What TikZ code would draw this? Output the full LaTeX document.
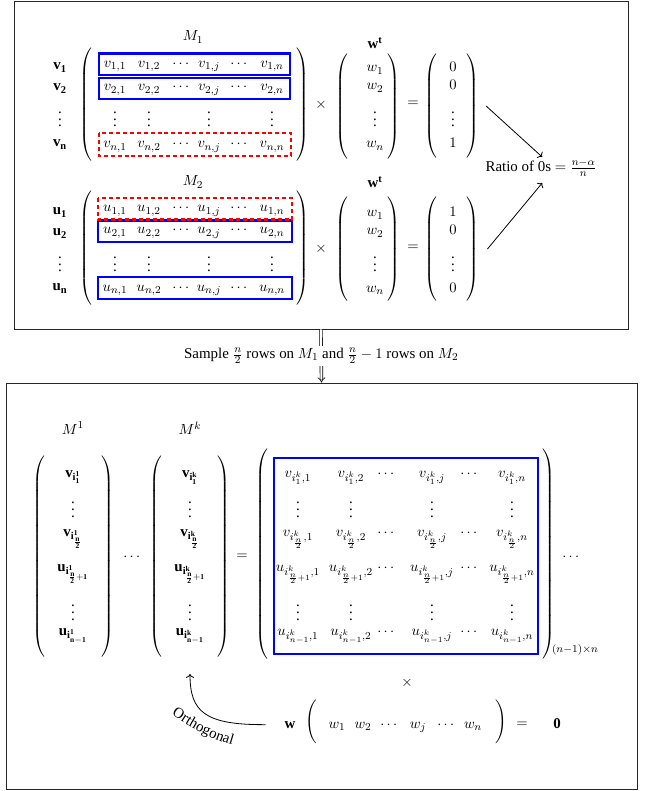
\documentclass[tikz,border=0pt]{standalone}
\usepackage{amsmath}
\usepackage{fontspec}
\setmainfont{Liberation Serif}
\usetikzlibrary{arrows.meta,decorations.text}
\newcommand\parL[1]{$\delimiterfactor=1000\delimitershortfall=0pt\left(\vcenter to #1{\vfil}\right.$}
\newcommand\parR[1]{$\delimiterfactor=1000\delimitershortfall=0pt\left.\vcenter to #1{\vfil}\right)$}
\newcommand\vd{\vbox{\baselineskip5.2pt\lineskiplimit0pt\hbox{.}\hbox{.}\hbox{.}}}
\tikzset{
  ent/.style={anchor=base, inner sep=0pt},
  cen/.style={inner sep=0.5pt},
  panel/.style={draw=black!85, line width=0.6pt, inner sep=0pt},
  bluebox/.style={draw=blue, line width=2.2pt},
  redbox/.style={draw=red, line width=2.2pt, dash pattern=on 3pt off 2.2pt},
  conn/.style={->, line width=0.6pt},
}
\begin{document}
\fontsize{11.2}{13.5}\selectfont
\begin{tikzpicture}[x=0.75pt,y=-0.75pt]
\useasboundingbox (0,0) rectangle (644,791);
% panels
\node[panel, minimum width=460.5pt, minimum height=246pt] (top) at (321,165) {};
\node[panel, minimum width=473.25pt, minimum height=304.5pt] (bot) at (321.5,586) {};
\draw[double, double distance=1.5pt, line width=0.5pt, -{Implies}] (top.south) --
  node[fill=white, inner sep=2pt] (samp) {Sample $\frac{n}{2}$ rows on $M_1$ and $\frac{n}{2}-1$ rows on $M_2$} (bot.north);

% ===== M1 =====
\node[cen] (M1) at (193,37) {$M_1$};
\node[ent] (lv1) at (60,70) {$\mathbf{v_1}$};
\node[ent] (lv2) at (60,91) {$\mathbf{v_2}$};
\node[ent] (lvd) at (60,127) {$\vd$};
\node[ent] (lvn) at (60,147) {$\mathbf{v_n}$};
\node[cen,inner sep=0pt] (L1) at (87,104.5) {\parL{81pt}};
\node[cen,inner sep=0pt] (R1) at (302,104.5) {\parR{81pt}};
\foreach \r/\y in {1/67.5,2/91,n/148} {
  \foreach \c/\x in {1/115,2/149,j/209,n/272} \node[ent] (v\r\c) at (\x,\y) {$v_{\r,\c}$};
  \foreach \k/\x in {a/182,b/240} \node[ent] (vd\r\k) at (\x,\y) {$\cdots$};
}
\foreach \c/\x in {1/115,2/149,j/209,n/272} \node[ent] (vv\c) at (\x,127) {$\vd$};
\draw[bluebox] (99,53.5) rectangle (290,75);
\draw[bluebox] (99,78) rectangle (290,99);
\draw[redbox] (99,133) rectangle (291,156);
\node[cen] (x1) at (321,105) {$\times$};
\node[cen] (wt1) at (375,43) {$\mathbf{w^t}$};
\node[cen,inner sep=0pt] (WL1) at (343,106.5) {\parL{73pt}};
\node[cen,inner sep=0pt] (WR1) at (393,106.5) {\parR{73pt}};
\node[ent] (w11) at (375,72) {$w_1$};
\node[ent] (w12) at (375,90) {$w_2$};
\node[ent] (w1d) at (375,127) {$\vd$};
\node[ent] (w1n) at (375,148) {$w_n$};
\node[cen] (eq1) at (413,104) {$=$};
\node[cen,inner sep=0pt] (RL1) at (432,106) {\parL{74pt}};
\node[cen,inner sep=0pt] (RR1) at (472,106) {\parR{74pt}};
\node[ent] (o11) at (453,72) {$0$};
\node[ent] (o12) at (453,90) {$0$};
\node[ent] (o1d) at (453,127) {$\vd$};
\node[ent] (o1n) at (453,148) {$1$};

% ratio
\node[cen] (ratio) at (541,168) {Ratio of 0s $=\frac{n-\alpha}{n}$};

% ===== M2 =====
\node[cen] (M2) at (193,182) {$M_2$};
\node[ent] (lu1) at (60,215) {$\mathbf{u_1}$};
\node[ent] (lu2) at (60,236) {$\mathbf{u_2}$};
\node[ent] (lud) at (60,272) {$\vd$};
\node[ent] (lun) at (60,291) {$\mathbf{u_n}$};
\node[cen,inner sep=0pt] (L2) at (87,248) {\parL{82pt}};
\node[cen,inner sep=0pt] (R2) at (302,248) {\parR{82pt}};
\foreach \r/\y in {1/212,2/234,n/291.5} {
  \foreach \c/\x in {1/115,2/149,j/209,n/272} \node[ent] (u\r\c) at (\x,\y) {$u_{\r,\c}$};
  \foreach \k/\x in {a/182,b/240} \node[ent] (ud\r\k) at (\x,\y) {$\cdots$};
}
\foreach \c/\x in {1/115,2/149,j/209,n/272} \node[ent] (uv\c) at (\x,272) {$\vd$};
\draw[bluebox] (98,220.5) rectangle (292,242);
\draw[bluebox] (98,277) rectangle (292,299);
\draw[redbox] (98,198) rectangle (292,219.5);
\node[cen] (x2) at (321,249) {$\times$};
\node[cen] (wt2) at (375,182) {$\mathbf{w^t}$};
\node[cen,inner sep=0pt] (WL2) at (343,249) {\parL{75pt}};
\node[cen,inner sep=0pt] (WR2) at (393,249) {\parR{75pt}};
\node[ent] (w21) at (375,217) {$w_1$};
\node[ent] (w22) at (375,235) {$w_2$};
\node[ent] (w2d) at (375,272) {$\vd$};
\node[ent] (w2n) at (375,292) {$w_n$};
\node[cen] (eq2) at (413,248) {$=$};
\node[cen,inner sep=0pt] (RL2) at (432,249) {\parL{75pt}};
\node[cen,inner sep=0pt] (RR2) at (472,249) {\parR{75pt}};
\node[ent] (o21) at (453,217) {$1$};
\node[ent] (o22) at (453,235) {$0$};
\node[ent] (o2d) at (453,272) {$\vd$};
\node[ent] (o2n) at (453,292) {$0$};

\draw[conn] ([xshift=5pt]RR1.east) -- ([xshift=1pt,yshift=1pt]ratio.north);
\draw[conn] ([xshift=6pt]RR2.east) -- ([xshift=1pt,yshift=-4pt]ratio.south);

% ===== bottom panel =====
\node[cen] (Mk1) at (73,428) {$M^1$};
\node[cen] (Mkk) at (190,428) {$M^k$};
\foreach \kk/\vx/\lx/\rx in {1/73/40/107,k/190/157/223} {
  \node[cen,inner sep=0pt] (PL\kk) at (\lx,556.5) {\parL{145pt}};
  \node[cen,inner sep=0pt] (PR\kk) at (\rx,556.5) {\parR{145pt}};
  \node[ent] (e\kk1) at (\vx,477) {$\mathbf{v_{i^{\kk}_1}}$};
  \node[ent] (e\kk2) at (\vx,517) {$\vd$};
  \node[ent] (e\kk3) at (\vx,536) {$\mathbf{v_{i^{\kk}_{\frac{n}{2}}}}$};
  \node[ent] (e\kk4) at (\vx,571) {$\mathbf{u_{i^{\kk}_{\frac{n}{2}+1}}}$};
  \node[ent] (e\kk5) at (\vx,620) {$\vd$};
  \node[ent] (e\kk6) at (\vx,635) {$\mathbf{u_{i^{\kk}_{n-1}}}$};
}
\node[ent] (dd1) at (133,560) {$\cdots$};
\node[cen] (eqb) at (242,557) {$=$};
\node[cen,inner sep=0pt] (BL) at (263,554.5) {\parL{154pt}};
\node[cen,inner sep=0pt] (BR) at (548,554.5) {\parR{154pt}};
\foreach \r/\y/\L/\s in {1/477/v/{i^k_1},3/536/v/{i^k_{\frac{n}{2}}},4/571/u/{i^k_{\frac{n}{2}+1}},6/635/u/{i^k_{n-1}}} {
  \foreach \c/\x in {1/298,2/351,j/432,n/512} \node[ent] (b\r\c) at (\x,\y) {$\L_{\s,\c}$};
  \foreach \k/\x in {a/387,b/470} \node[ent] (bd\r\k) at (\x,\y) {$\cdots$};
}
\foreach \r/\y in {2/517,5/620} {
  \foreach \c/\x in {1/298,2/351,j/432,n/512} \node[ent] (b\r\c) at (\x,\y) {$\vd$};
}
\draw[bluebox] (274,458) rectangle (538,654);
\node[cen] (size) at (575,650) {$\scriptstyle (n-1)\times n$};
\node[ent] (dd3) at (572,560) {$\cdots$};
\node[cen] (xb) at (407,683) {$\times$};

% w row
\node[ent] (wb) at (290,728) {$\mathbf{w}$};
\node[cen,inner sep=0pt] (wbL) at (312,722) {\parL{28pt}};
\node[cen,inner sep=0pt] (wbR) at (500,722) {\parR{28pt}};
\node[ent] (wb1) at (337,728) {$w_1$};
\node[ent] (wb2) at (363,728) {$w_2$};
\node[ent] (wbd1) at (390,728) {$\cdots$};
\node[ent] (wbj) at (418,728) {$w_j$};
\node[ent] (wbd2) at (447,728) {$\cdots$};
\node[ent] (wbn) at (473,728) {$w_n$};
\node[cen] (eqc) at (522,725) {$=$};
\node[ent] (zero) at (557,728) {$\mathbf{0}$};

% orthogonal
\coordinate (oend) at (190,674);
\draw[conn] ([xshift=-14pt]wb.west) .. controls (205,725) and (190,712) .. (oend);
\path[decorate, decoration={text along path, text={Orthogonal}, text align=center}]
  (158,706) .. controls (190,727) and (210,741) .. (248,749);
\end{tikzpicture}
\end{document}
